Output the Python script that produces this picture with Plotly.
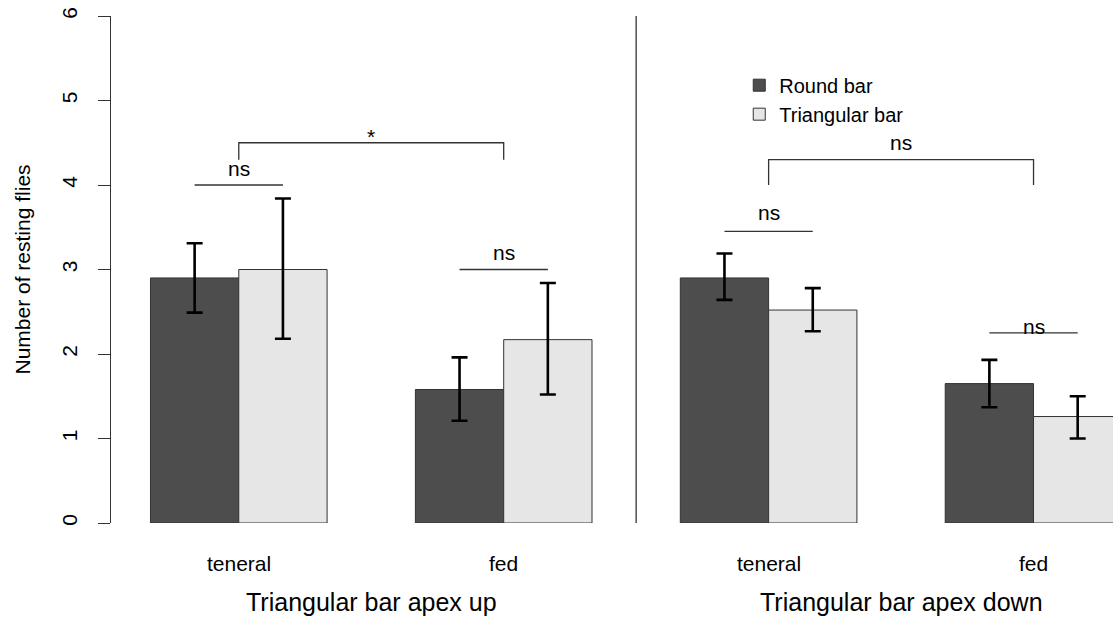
import plotly.graph_objects as go

# one entry per group: apex up (teneral, fed), apex down (teneral, fed)
groups = ["teneral", "fed", "teneral", "fed"]
panel_titles = ["Triangular bar apex up", "Triangular bar apex down"]

round_mean = [2.90, 1.58, 2.90, 1.65]
round_lo = [2.49, 1.21, 2.64, 1.37]
round_hi = [3.31, 1.96, 3.19, 1.93]

tri_mean = [3.00, 2.17, 2.52, 1.26]
tri_lo = [2.18, 1.52, 2.27, 1.00]
tri_hi = [3.84, 2.84, 2.78, 1.50]

# significance within each group (round vs triangular)
within_line_y = [4.0, 3.0, 3.45, 2.25]
within_text_y = [4.2, 3.2, 3.68, 2.33]
within_label = ["ns", "ns", "ns", "ns"]

# significance between teneral and fed in each panel
between_pairs = [(0, 1), (2, 3)]
between_top = [4.5, 4.3]
between_drop = [4.3, 4.0]
between_text_y = [4.42, 4.5]
between_label = ["*", "ns"]

FONT = "Liberation Sans, Arial, sans-serif"
DARK = "#4d4d4d"
LIGHT = "#e6e6e6"
LINE = "#333333"
FS = 21

# group centres: 2 bars per group, 1 bar gap, panels side by side
centers = [2 + 3 * i for i in range(len(groups))]
x_round = [c - 0.5 for c in centers]
x_tri = [c + 0.5 for c in centers]

fig = go.Figure()
fig.add_trace(go.Bar(
    x=x_round, y=round_mean, width=1, name="Round bar",
    marker=dict(color=DARK, line=dict(color=LINE, width=1)),
    error_y=dict(type="data", symmetric=False,
                 array=[h - m for h, m in zip(round_hi, round_mean)],
                 arrayminus=[m - l for m, l in zip(round_mean, round_lo)],
                 color="black", thickness=2.6, width=8),
))
fig.add_trace(go.Bar(
    x=x_tri, y=tri_mean, width=1, name="Triangular bar",
    marker=dict(color=LIGHT, line=dict(color=LINE, width=1)),
    error_y=dict(type="data", symmetric=False,
                 array=[h - m for h, m in zip(tri_hi, tri_mean)],
                 arrayminus=[m - l for m, l in zip(tri_mean, tri_lo)],
                 color="black", thickness=2.6, width=8),
))

shapes = []
annotations = []

# within-group lines
for i in range(len(groups)):
    shapes.append(dict(type="line", xref="x", yref="y",
                       x0=x_round[i], x1=x_tri[i], y0=within_line_y[i], y1=within_line_y[i],
                       line=dict(color=LINE, width=1.3)))
    annotations.append(dict(x=centers[i], y=within_text_y[i], xref="x", yref="y",
                            text=within_label[i], showarrow=False,
                            font=dict(size=FS, color="black")))

# between-group brackets
for (a, b), top, drop, ty, lab in zip(between_pairs, between_top, between_drop,
                                      between_text_y, between_label):
    shapes.append(dict(type="path", xref="x", yref="y",
                       path=f"M {centers[a]},{drop} L {centers[a]},{top} L {centers[b]},{top} L {centers[b]},{drop}",
                       line=dict(color=LINE, width=1.3)))
    annotations.append(dict(x=(centers[a] + centers[b]) / 2, y=ty, xref="x", yref="y",
                            text=lab, showarrow=False, yanchor="bottom" if lab == "*" else "middle",
                            font=dict(size=FS, color="black")))

# panel divider
shapes.append(dict(type="line", xref="x", yref="y", x0=6.5, x1=6.5, y0=0, y1=6,
                   line=dict(color=LINE, width=1.3)))

# category labels and panel titles
for c, g in zip(centers, groups):
    annotations.append(dict(x=c, y=-0.079, xref="x", yref="paper", text=g,
                            xanchor="center", yanchor="middle",
                            showarrow=False, font=dict(size=FS, color="black")))
for p, title in enumerate(panel_titles):
    annotations.append(dict(x=(centers[2 * p] + centers[2 * p + 1]) / 2, y=-0.156,
                            xref="x", yref="paper", text=title, showarrow=False,
                            xanchor="center", yanchor="middle",
                            font=dict(size=25, color="black")))

annotations.append(dict(x=-0.0888, y=0.5, xref="paper", yref="paper",
                        xanchor="center", yanchor="middle",
                        text="Number of resting flies", textangle=-90, showarrow=False,
                        font=dict(size=FS, color="black")))

fig.update_layout(
    width=1113, height=617,
    margin=dict(l=111, r=0, t=16, b=94),
    plot_bgcolor="white", paper_bgcolor="white",
    font=dict(family=FONT, size=FS, color="black"),
    barmode="overlay",
    showlegend=True,
    legend=dict(x=0.627, y=0.902, xanchor="left", yanchor="top",
                bgcolor="rgba(0,0,0,0)", font=dict(size=20), tracegroupgap=0),
    shapes=shapes,
    annotations=annotations,
)
fig.update_xaxes(range=[0.553, 11.9], showgrid=False, zeroline=False,
                 showline=False, showticklabels=False, ticks="")
fig.update_yaxes(range=[0, 6], showgrid=False, zeroline=False,
                 showline=True, linecolor=LINE, linewidth=1.3,
                 ticks="outside", ticklen=12, tickcolor=LINE, tickwidth=1.3,
                 tickvals=[0, 1, 2, 3, 4, 5, 6], tickangle=-90,
                 tickfont=dict(size=FS), ticklabelstandoff=12,
                 ticklabeloverflow="allow")

# drop the default page margin so the figure sits at the window origin
fig.write_html("out.html", config={"displayModeBar": False},
               post_script="document.body.style.margin='0';document.body.style.overflow='hidden';")
